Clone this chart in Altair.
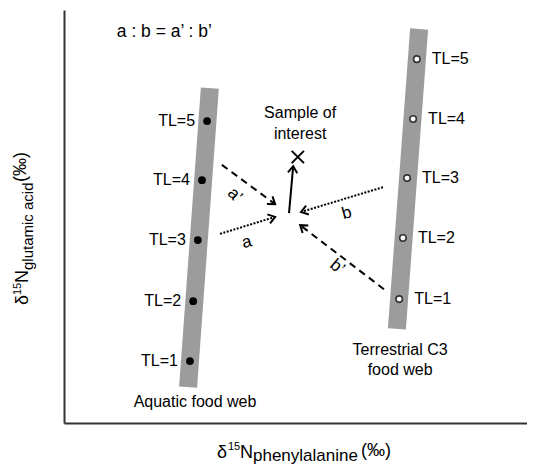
import math
import altair as alt
import pandas as pd

# ---------------- data (unitless δ15N space, 0-100 on both axes) ----------------
tl_levels = ["TL=5", "TL=4", "TL=3", "TL=2", "TL=1"]

aq_bar_x = [31.5, 26.8]
aq_bar_y = [81.1, 8.7]
te_bar_x = [76.7, 71.9]
te_bar_y = [95.4, 22.8]

aq_x = [30.9, 29.8, 28.9, 27.9, 27.2]
aq_y = [73.1, 58.8, 44.3, 29.5, 15.0]
te_x = [76.2, 75.4, 74.1, 73.2, 72.4]
te_y = [88.1, 73.6, 59.3, 44.8, 30.0]

sample_x = [50.5]
sample_y = [64.4]

arrow_style = ["solid", "dashed", "dotted", "dotted", "dashed"]
arrow_x0 = [48.6, 34.1, 33.7, 68.9, 69.1]
arrow_y0 = [50.8, 62.5, 45.8, 57.1, 32.4]
arrow_x1 = [49.5, 45.6, 45.6, 51.2, 51.0]
arrow_y1 = [62.2, 53.0, 49.9, 51.1, 47.9]

arrow_labels = ["a\u2019", "a", "b", "b\u2019"]
arrow_label_x = [36.9, 39.5, 61.1, 59.0]
arrow_label_y = [55.2, 43.8, 50.8, 37.8]
arrow_label_angle = [45, 345, 345, 40]

notes = ["a : b = a\u2019 : b\u2019", "Sample of", "interest", "Aquatic food web",
         "Terrestrial C3", "food web"]
notes_x = [11.4, 51.0, 51.0, 28.3, 72.6, 72.6]
notes_y = [94.7, 75.1, 70.0, 5.1, 17.7, 12.8]
notes_align = ["left", "center", "center", "center", "center", "center"]

# ---------------- layout ----------------
W, H = 463, 413
FONT = "Liberation Sans"

xs = alt.Scale(domain=[0, 100], nice=False, zero=False)
ys = alt.Scale(domain=[0, 100], nice=False, zero=False)
ax = dict(title=None, labels=False, ticks=False, grid=False,
          domainColor="#333333", domainWidth=2)

bars = pd.DataFrame({
    "x0": [aq_bar_x[0], te_bar_x[0]], "y0": [aq_bar_y[0], te_bar_y[0]],
    "x1": [aq_bar_x[1], te_bar_x[1]], "y1": [aq_bar_y[1], te_bar_y[1]],
})
aq = pd.DataFrame({"x": aq_x, "y": aq_y, "tl": tl_levels})
te = pd.DataFrame({"x": te_x, "y": te_y, "tl": tl_levels})
sample = pd.DataFrame({"x": sample_x, "y": sample_y})

arrows = pd.DataFrame({"style": arrow_style, "x0": arrow_x0, "y0": arrow_y0,
                       "x1": arrow_x1, "y1": arrow_y1})
arrows["ang"] = [
    math.degrees(math.atan2(-(b1 - b0) * H / 100, (a1 - a0) * W / 100)) % 360
    for a0, b0, a1, b1 in zip(arrow_x0, arrow_y0, arrow_x1, arrow_y1)
]
alabels = pd.DataFrame({"x": arrow_label_x, "y": arrow_label_y,
                        "t": arrow_labels, "ang": arrow_label_angle})
notes_df = pd.DataFrame({"x": notes_x, "y": notes_y, "t": notes, "al": notes_align})

gray_bars = alt.Chart(bars).mark_rule(strokeWidth=18, color="#9c9c9c", strokeCap="butt").encode(
    x=alt.X("x0:Q", scale=xs, axis=alt.Axis(**ax)),
    y=alt.Y("y0:Q", scale=ys, axis=alt.Axis(**ax)),
    x2="x1:Q", y2="y1:Q",
)

aq_dots = alt.Chart(aq).mark_point(shape="circle", filled=True, size=60, color="black", opacity=1).encode(
    x=alt.X("x:Q", scale=xs), y=alt.Y("y:Q", scale=ys))
te_dots = alt.Chart(te).mark_point(shape="circle", filled=True, size=42, fill="white",
                                   stroke="#333333", strokeWidth=1.6, opacity=1).encode(
    x=alt.X("x:Q", scale=xs), y=alt.Y("y:Q", scale=ys))

aq_text = alt.Chart(aq).mark_text(align="right", dx=-12, font=FONT, fontSize=16, color="black").encode(
    x=alt.X("x:Q", scale=xs), y=alt.Y("y:Q", scale=ys), text="tl:N")
te_text = alt.Chart(te).mark_text(align="left", dx=15, font=FONT, fontSize=16, color="black").encode(
    x=alt.X("x:Q", scale=xs), y=alt.Y("y:Q", scale=ys), text="tl:N")

def arrow_lines(style, dash):
    kw = dict(strokeWidth=2, color="black", strokeCap="butt")
    if dash:
        kw["strokeDash"] = dash
    return alt.Chart(arrows).transform_filter(alt.datum.style == style).mark_rule(**kw).encode(
        x=alt.X("x0:Q", scale=xs), y=alt.Y("y0:Q", scale=ys), x2="x1:Q", y2="y1:Q")

solid = arrow_lines("solid", None)
dashed = arrow_lines("dashed", [7, 5])
dotted = arrow_lines("dotted", [2, 1.5])

heads = alt.Chart(arrows).mark_point(shape="M-1,-0.7L0,0L-1,0.7", filled=False, size=180,
                                     strokeWidth=2, color="black", opacity=1).encode(
    x=alt.X("x1:Q", scale=xs), y=alt.Y("y1:Q", scale=ys),
    angle=alt.Angle("ang:Q", scale=None))

cross = alt.Chart(sample).mark_point(shape="M-1,-1L1,1M-1,1L1,-1", filled=False, size=150,
                                     strokeWidth=2, color="black", opacity=1).encode(
    x=alt.X("x:Q", scale=xs), y=alt.Y("y:Q", scale=ys))

alab = alt.Chart(alabels).mark_text(font=FONT, fontSize=17, color="black").encode(
    x=alt.X("x:Q", scale=xs), y=alt.Y("y:Q", scale=ys), text="t:N",
    angle=alt.Angle("ang:Q", scale=None))

note_left = alt.Chart(notes_df).transform_filter(alt.datum.al == "left").mark_text(
    align="left", font=FONT, fontSize=17.5, color="black").encode(
    x=alt.X("x:Q", scale=xs), y=alt.Y("y:Q", scale=ys), text="t:N")
note_center = alt.Chart(notes_df).transform_filter(alt.datum.al == "center").mark_text(
    align="center", font=FONT, fontSize=16, color="black").encode(
    x=alt.X("x:Q", scale=xs), y=alt.Y("y:Q", scale=ys), text="t:N")

# ---------------- axis titles with super/subscripts (pixel positions in plot frame) ----------------
xt_text = ["\u03b4", "15", "N", "phenylalanine", "(\u2030)"]
xt_px = [153, 164, 176, 189, 297]
xt_py = [448, 440, 448, 451, 446]
xt_size = [18, 11, 18, 17, 18]
xt_ang = [0, 0, 0, 0, 0]

yt_text = ["\u03b4", "15", "N", "glutamic acid", "(\u2030)"]
yt_px = [-36, -43, -36, -31, -38]
yt_py = [295, 285, 273, 260, 172]
yt_size = [18, 11, 18, 15, 18]
yt_ang = [270, 270, 270, 270, 270]

titles = pd.DataFrame({"t": xt_text + yt_text, "px": xt_px + yt_px, "py": xt_py + yt_py,
                       "s": xt_size + yt_size, "a": xt_ang + yt_ang})
title_layer = alt.Chart(titles).mark_text(align="left", baseline="alphabetic", font=FONT,
                                          color="black").encode(
    x=alt.X("px:Q", scale=None, axis=None),
    y=alt.Y("py:Q", scale=None, axis=None),
    text="t:N",
    size=alt.Size("s:Q", scale=None),
    angle=alt.Angle("a:Q", scale=None),
)

main = alt.layer(gray_bars, aq_dots, te_dots, aq_text, te_text, solid, dashed, dotted,
                 heads, cross, alab, note_left, note_center)

chart = alt.layer(main, title_layer).resolve_scale(x="independent", y="independent").properties(
    width=W, height=H,
    autosize=alt.AutoSizeParams(type="none"),
    padding={"left": 56, "top": 2, "right": 0, "bottom": 43},
    background="white",
).configure_view(stroke=None)

chart.save("out.html", embed_options={"renderer": "svg", "actions": False})
